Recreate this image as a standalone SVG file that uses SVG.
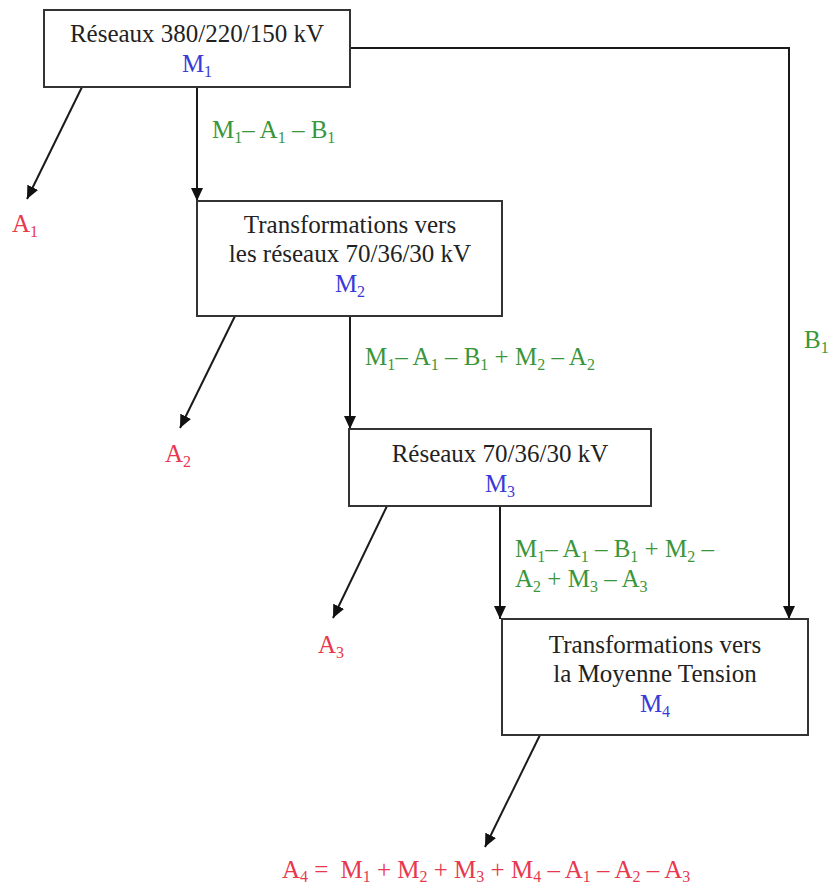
<svg xmlns="http://www.w3.org/2000/svg" width="829" height="887" viewBox="0 0 829 887">
<style>
text{font-family:'Liberation Serif','Times New Roman','DejaVu Serif',serif;font-size:25px}
.t{fill:#222}
.b{fill:#3a3ad8}
.r{fill:#e8384f}
.g{fill:#3a963a}
.s{font-size:16px}
.c{text-anchor:middle}
.box{fill:#fff;stroke:#333;stroke-width:2}
.ln{fill:none;stroke:#1a1a1a;stroke-width:2}
</style>
<defs>
<marker id="ah" markerUnits="userSpaceOnUse" markerWidth="14" markerHeight="12" refX="13" refY="6" orient="auto">
<path d="M0,0 L13,6 L0,12 Z" fill="#111"/>
</marker>
</defs>
<g id="connectors">
<line class="ln" x1="82" y1="87" x2="27" y2="199" marker-end="url(#ah)"/>
<line class="ln" x1="197" y1="87" x2="197" y2="201" marker-end="url(#ah)"/>
<line class="ln" x1="235" y1="316" x2="180" y2="428" marker-end="url(#ah)"/>
<line class="ln" x1="350" y1="316" x2="350" y2="429" marker-end="url(#ah)"/>
<line class="ln" x1="387" y1="506" x2="333" y2="618" marker-end="url(#ah)"/>
<line class="ln" x1="500" y1="506" x2="500" y2="619" marker-end="url(#ah)"/>
<polyline class="ln" points="350,48 789,48 789,619" marker-end="url(#ah)"/>
<line class="ln" x1="540" y1="735" x2="485" y2="847" marker-end="url(#ah)"/>
<text class="g" x="212" y="138">M<tspan class="s" dy="5">1</tspan><tspan dy="-5">– A</tspan><tspan class="s" dy="5">1</tspan><tspan dy="-5"> – B</tspan><tspan class="s" dy="5">1</tspan></text>
<text class="g" x="365" y="365">M<tspan class="s" dy="5">1</tspan><tspan dy="-5">– A</tspan><tspan class="s" dy="5">1</tspan><tspan dy="-5"> – B</tspan><tspan class="s" dy="5">1</tspan><tspan dy="-5"> + M</tspan><tspan class="s" dy="5">2</tspan><tspan dy="-5"> – A</tspan><tspan class="s" dy="5">2</tspan></text>
<text class="g" x="515" y="557">M<tspan class="s" dy="5">1</tspan><tspan dy="-5">– A</tspan><tspan class="s" dy="5">1</tspan><tspan dy="-5"> – B</tspan><tspan class="s" dy="5">1</tspan><tspan dy="-5"> + M</tspan><tspan class="s" dy="5">2</tspan><tspan dy="-5"> –</tspan></text>
<text class="g" x="515" y="587">A<tspan class="s" dy="5">2</tspan><tspan dy="-5"> + M</tspan><tspan class="s" dy="5">3</tspan><tspan dy="-5"> – A</tspan><tspan class="s" dy="5">3</tspan></text>
<text class="g" x="804" y="348">B<tspan class="s" dy="5">1</tspan></text>
</g>
<g id="n1">
<rect class="box" x="44" y="10" width="306" height="77"/>
<text class="t c" x="197" y="42">Réseaux 380/220/150 kV</text>
<text class="b c" x="197" y="72">M<tspan class="s" dy="5">1</tspan></text>
</g>
<g id="n2">
<rect class="box" x="197" y="201" width="305" height="115"/>
<text class="t c" x="350" y="233">Transformations vers</text>
<text class="t c" x="350" y="262">les réseaux 70/36/30 kV</text>
<text class="b c" x="350" y="292">M<tspan class="s" dy="5">2</tspan></text>
</g>
<g id="n3">
<rect class="box" x="349" y="429" width="302" height="77"/>
<text class="t c" x="500" y="462">Réseaux 70/36/30 kV</text>
<text class="b c" x="500" y="492">M<tspan class="s" dy="5">3</tspan></text>
</g>
<g id="n4">
<rect class="box" x="502" y="619" width="306" height="116"/>
<text class="t c" x="655" y="653">Transformations vers</text>
<text class="t c" x="655" y="682">la Moyenne Tension</text>
<text class="b c" x="655" y="712">M<tspan class="s" dy="5">4</tspan></text>
</g>
<g id="a1"><text class="r" x="12" y="232">A<tspan class="s" dy="5">1</tspan></text></g>
<g id="a2"><text class="r" x="165" y="462">A<tspan class="s" dy="5">2</tspan></text></g>
<g id="a3"><text class="r" x="318" y="653">A<tspan class="s" dy="5">3</tspan></text></g>
<g id="a4"><text class="r" x="282" y="878">A<tspan class="s" dy="4">4</tspan><tspan dy="-4"> =</tspan><tspan dx="12">M</tspan><tspan class="s" dy="4">1</tspan><tspan dy="-4"> + M</tspan><tspan class="s" dy="4">2</tspan><tspan dy="-4"> + M</tspan><tspan class="s" dy="4">3</tspan><tspan dy="-4"> + M</tspan><tspan class="s" dy="4">4</tspan><tspan dy="-4"> – A</tspan><tspan class="s" dy="4">1</tspan><tspan dy="-4"> – A</tspan><tspan class="s" dy="4">2</tspan><tspan dy="-4"> – A</tspan><tspan class="s" dy="4">3</tspan></text></g>
</svg>
